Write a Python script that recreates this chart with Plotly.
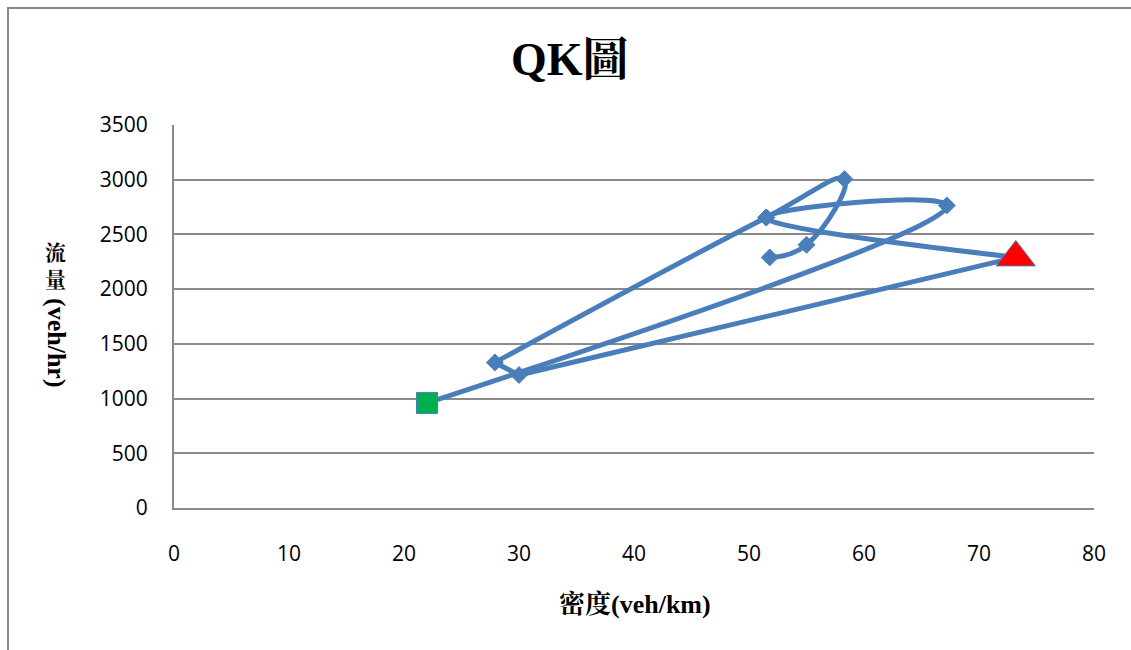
import plotly.graph_objects as go

# Density (veh/km) and flow (veh/hr), in the order the observations were taken
density = [22.0, 67.2, 51.5, 73.2, 30.0, 27.9, 51.5, 58.3, 55.0, 51.8]
flow = [960, 2765, 2655, 2290, 1215, 1330, 2655, 3005, 2405, 2290]

# Per-point marker styling: the first observation is a square, the
# highest-density observation a triangle, the rest diamonds
symbols = ["square", "diamond", "diamond", "triangle-up"] + ["diamond"] * (len(density) - 4)
fills = ["#00B050", "#4A7EBB", "#4A7EBB", "#FF0000"] + ["#4A7EBB"] * (len(density) - 4)
sizes = [21, 13, 13, 34] + [13] * (len(density) - 4)

# The path is drawn in stretches: the sweeps are smoothed, the return run
# and the short hop between the two low-density points stay straight.
stretches = [
    (0, 4, "spline"),
    (3, 6, "linear"),
    (5, 10, "spline"),
]

x_ticks = list(range(0, 81, 10))
y_ticks = list(range(0, 3501, 500))

W, H = 1131, 650
L, R, T, B = 174, 37, 125, 142
PW, PH = W - L - R, H - T - B


def px(xp):
    return (xp - L) / PW


def py(yp):
    return (H - B - yp) / PH


SERIF = "Liberation Serif, Noto Serif CJK TC, Noto Sans CJK TC, serif"
SANS = "Open Sans, Liberation Sans, sans-serif"
BLUE = "#4A7EBB"
GRID = "#8A8A8A"

fig = go.Figure()
for start, stop, shape in stretches:
    fig.add_trace(
        go.Scatter(
            x=density[start:stop],
            y=flow[start:stop],
            mode="lines",
            line=dict(color=BLUE, width=5, shape=shape, smoothing=1.3),
            cliponaxis=False,
            showlegend=False,
            hoverinfo="skip",
        )
    )

fig.add_trace(
    go.Scatter(
        x=density,
        y=flow,
        mode="markers",
        marker=dict(
            symbol=symbols,
            color=fills,
            size=sizes,
            opacity=1,
            line=dict(color=BLUE, width=1),
        ),
        cliponaxis=False,
        showlegend=False,
        hoverinfo="x+y",
    )
)

label_font = dict(family=SERIF, size=26, color="#000000")

fig.update_layout(
    width=W,
    height=H,
    autosize=False,
    margin=dict(l=L, r=R, t=T, b=B, pad=0),
    paper_bgcolor="white",
    plot_bgcolor="white",
    xaxis=dict(
        range=[0, 80],
        tickvals=x_ticks,
        ticktext=[str(v) for v in x_ticks],
        showgrid=False,
        zeroline=False,
        showline=True,
        linecolor=GRID,
        linewidth=2,
        ticks="",
        ticklabelstandoff=26,
        tickfont=dict(family=SANS, size=21, color="#000000"),
        fixedrange=True,
    ),
    yaxis=dict(
        range=[0, 3500],
        tickvals=y_ticks,
        ticktext=[str(v) for v in y_ticks],
        showgrid=True,
        gridcolor=GRID,
        gridwidth=2,
        zeroline=False,
        showline=True,
        linecolor=GRID,
        linewidth=2,
        ticks="",
        ticklabelstandoff=20,
        tickfont=dict(family=SANS, size=21, color="#000000"),
        fixedrange=True,
    ),
    shapes=[
        dict(
            type="rect",
            xref="paper",
            yref="paper",
            x0=px(8),
            x1=px(1160),
            y0=py(680),
            y1=py(8),
            line=dict(color="#888888", width=2),
            fillcolor="rgba(0,0,0,0)",
            layer="below",
        )
    ],
    annotations=[
        # chart title
        dict(
            text="<b>QK圖</b>",
            xref="paper",
            yref="paper",
            x=px(569.5),
            y=py(60),
            xanchor="center",
            yanchor="middle",
            showarrow=False,
            font=dict(family=SERIF, size=46, color="#000000"),
        ),
        # x-axis title
        dict(
            text="<b>密度(veh/km)</b>",
            xref="paper",
            yref="paper",
            x=px(635),
            y=py(604),
            xanchor="center",
            yanchor="middle",
            showarrow=False,
            font=label_font,
        ),
        # y-axis title: stacked upright characters, then the rotated unit
        dict(
            text="<b>流<br>量</b>",
            xref="paper",
            yref="paper",
            x=px(56),
            y=py(266),
            xanchor="center",
            yanchor="middle",
            showarrow=False,
            font=dict(family=SERIF, size=21, color="#000000"),
        ),
        dict(
            text="<b>(veh/hr)</b>",
            xref="paper",
            yref="paper",
            x=px(57),
            y=py(343),
            xanchor="center",
            yanchor="middle",
            textangle=90,
            showarrow=False,
            font=label_font,
        ),
    ],
)

fig.write_html("out.html", config={"displayModeBar": False})
